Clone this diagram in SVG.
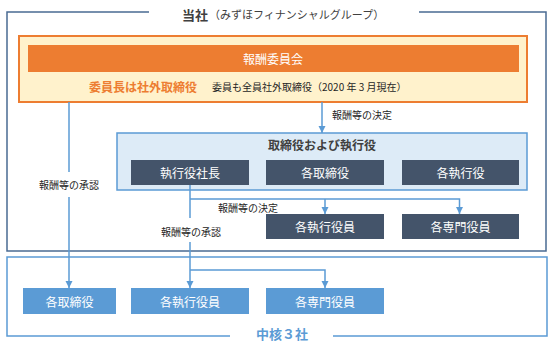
<svg xmlns="http://www.w3.org/2000/svg" width="553" height="344" viewBox="0 0 553 344">
<defs>
<style>
text{font-family:"Noto Sans CJK JP","Noto Sans",sans-serif;}
.frame{fill:none;stroke-width:1.5;}
.conn{fill:none;stroke:#5B9BD5;stroke-width:1.5;}
.dark rect{fill:#44546A;}
.light rect{fill:#5B9BD5;}
.bt{fill:#FFFFFF;font-size:12px;text-anchor:middle;dominant-baseline:central;}
.lbl{fill:#262626;font-size:10px;dominant-baseline:central;}
</style>
<marker id="ah" markerUnits="userSpaceOnUse" markerWidth="8" markerHeight="8" refX="7" refY="4" orient="auto">
<path d="M0,0.5 L7,4 L0,7.5 Z" fill="#5B9BD5"/>
</marker>
</defs>
<rect width="553" height="344" fill="#FFFFFF"/>

<g id="frame-top">
<path class="frame" stroke="#4A6B93" d="M149,12 H7 V251 H546 V12 H419"/>
<text x="182" y="14" dominant-baseline="central" fill="#404040"><tspan font-size="13" font-weight="bold">当社</tspan><tspan font-size="11" dx="1">（みずほフィナンシャルグループ）</tspan></text>
</g>

<g id="frame-bottom">
<path class="frame" stroke="#5B9BD5" d="M230,336 H7 V257 H547 V336 H333"/>
<text x="282" y="333" font-size="13" font-weight="bold" fill="#5B9BD5" text-anchor="middle" dominant-baseline="central">中核３社</text>
</g>

<g id="committee">
<rect x="19" y="36" width="508" height="66" fill="#FFF2CC" stroke="#ED7D31" stroke-width="2"/>
<rect x="28" y="45" width="491" height="27" fill="#ED7D31"/>
<text class="bt" x="273" y="58.5">報酬委員会</text>
<text x="89" y="86" font-size="12" font-weight="bold" fill="#ED7D31" dominant-baseline="central">委員長は社外取締役</text>
<text class="lbl" x="212" y="86">委員も全員社外取締役（2020 年 3 月現在）</text>
</g>

<g id="board">
<rect x="117" y="133" width="410" height="57" fill="#DDEBF7" stroke="#5B9BD5" stroke-width="1.5"/>
<text x="322" y="144" font-size="12" font-weight="bold" fill="#404040" text-anchor="middle" dominant-baseline="central">取締役および執行役</text>
</g>

<g id="ceo" class="dark"><rect x="131" y="160" width="118" height="25"/><text class="bt" x="190" y="172.5">執行役社長</text></g>
<g id="directors" class="dark"><rect x="266" y="160" width="118" height="25"/><text class="bt" x="325" y="172.5">各取締役</text></g>
<g id="executives" class="dark"><rect x="402" y="160" width="117" height="25"/><text class="bt" x="460.5" y="172.5">各執行役</text></g>
<g id="exec-officers" class="dark"><rect x="266" y="214" width="118" height="25"/><text class="bt" x="325" y="226.5">各執行役員</text></g>
<g id="specialists" class="dark"><rect x="402" y="214" width="117" height="25"/><text class="bt" x="460.5" y="226.5">各専門役員</text></g>

<g id="sub-directors" class="light"><rect x="23" y="288" width="93" height="26"/><text class="bt" x="69.5" y="301">各取締役</text></g>
<g id="sub-exec-officers" class="light"><rect x="131" y="288" width="118" height="26"/><text class="bt" x="190" y="301">各執行役員</text></g>
<g id="sub-specialists" class="light"><rect x="266" y="288" width="118" height="26"/><text class="bt" x="325" y="301">各専門役員</text></g>

<g id="connectors">
<path class="conn" d="M69,102 V172"/>
<path class="conn" d="M69,197 V288" marker-end="url(#ah)"/>
<path class="conn" d="M322,102 V133" marker-end="url(#ah)"/>
<path class="conn" d="M190,185 V218"/>
<path class="conn" d="M190,199 H459.5 V214" marker-end="url(#ah)"/>
<path class="conn" d="M325,199 V214" marker-end="url(#ah)"/>
<path class="conn" d="M190,242 V288" marker-end="url(#ah)"/>
<path class="conn" d="M190,270 H325 V288" marker-end="url(#ah)"/>
<text class="lbl" x="332" y="114">報酬等の決定</text>
<text class="lbl" x="218" y="207">報酬等の決定</text>
<text class="lbl" x="39" y="184">報酬等の承認</text>
<text class="lbl" x="161" y="231">報酬等の承認</text>
</g>
</svg>
